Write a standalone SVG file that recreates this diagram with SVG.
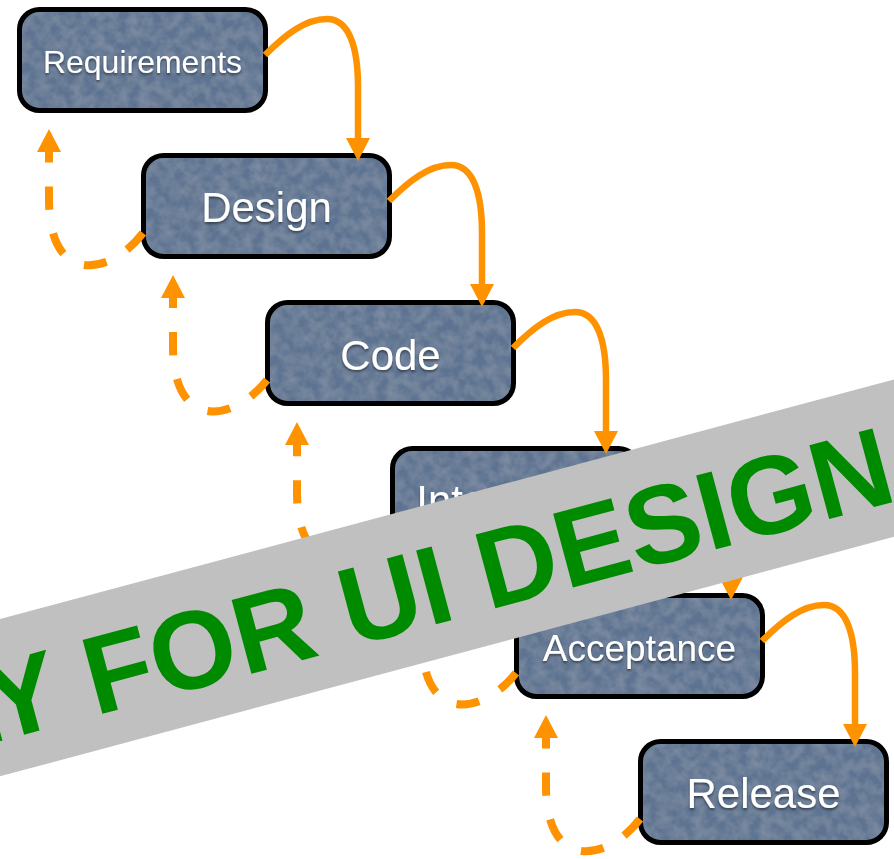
<svg xmlns="http://www.w3.org/2000/svg" width="894" height="859" viewBox="0 0 894 859">
  <style>
    .box { fill: #5d7391; }
    .frame { fill: none; stroke: #000; stroke-width: 5; }
    .lbl { font-family: "Liberation Sans", Arial, Helvetica, sans-serif; fill: #fff; text-anchor: middle; }
    .flow { fill: none; stroke: #ff9200; stroke-width: 6.5; marker-end: url(#tip); }
    .back { fill: none; stroke: #ff9200; stroke-width: 8; stroke-dasharray: 23 24; marker-end: url(#tip); }
    .band { fill: #c0c0c0; }
    .stamp { font-family: "Liberation Sans", Arial, Helvetica, sans-serif; font-weight: bold; font-size: 111px; fill: #008a00; }
  </style>
  <defs>
    <!-- fine mottled surface for the step boxes -->
    <filter id="grain" filterUnits="objectBoundingBox" x="0" y="0" width="1" height="1">
      <feTurbulence type="fractalNoise" baseFrequency="0.09" numOctaves="3" seed="7" result="noise"/>
      <feColorMatrix in="noise" type="matrix" values="0 0 0 0 1  0 0 0 0 1  0 0 0 0 1  0.2 0 0 0 -0.06" result="spots"/>
      <feComposite in="spots" in2="SourceAlpha" operator="in" result="clipped"/>
      <feMerge>
        <feMergeNode in="SourceGraphic"/>
        <feMergeNode in="clipped"/>
      </feMerge>
    </filter>
    <filter id="shadow" x="-10%" y="-20%" width="120%" height="160%">
      <feDropShadow dx="0" dy="2" stdDeviation="1.2" flood-color="#000" flood-opacity="0.45"/>
    </filter>
    <marker id="tip" viewBox="0 0 23 24" refX="0" refY="12" markerWidth="23" markerHeight="24" markerUnits="userSpaceOnUse" orient="auto">
      <path d="M0,0 L23,12 L0,24 Z" fill="#ff9200"/>
    </marker>
  </defs>

  <!-- process steps -->
  <g id="requirements" transform="translate(17,7)">
    <rect class="box" filter="url(#grain)" x="2.5" y="2.5" width="246" height="101" rx="20"/>
    <rect class="frame" x="2.5" y="2.5" width="246" height="101" rx="20"/>
    <text class="lbl" x="125.5" y="66" font-size="32" filter="url(#shadow)">Requirements</text>
  </g>
  <g id="design" transform="translate(141,153)">
    <rect class="box" filter="url(#grain)" x="2.5" y="2.5" width="246" height="101" rx="20"/>
    <rect class="frame" x="2.5" y="2.5" width="246" height="101" rx="20"/>
    <text class="lbl" x="125.5" y="69" font-size="42" filter="url(#shadow)">Design</text>
  </g>
  <g id="code" transform="translate(265,300)">
    <rect class="box" filter="url(#grain)" x="2.5" y="2.5" width="246" height="101" rx="20"/>
    <rect class="frame" x="2.5" y="2.5" width="246" height="101" rx="20"/>
    <text class="lbl" x="125.5" y="70" font-size="42" filter="url(#shadow)">Code</text>
  </g>
  <g id="integration" transform="translate(390,446)">
    <rect class="box" filter="url(#grain)" x="2.5" y="2.5" width="246" height="101" rx="20"/>
    <rect class="frame" x="2.5" y="2.5" width="246" height="101" rx="20"/>
    <text class="lbl" x="125.5" y="69" font-size="42" filter="url(#shadow)">Integration</text>
  </g>
  <g id="acceptance" transform="translate(514,593)">
    <rect class="box" filter="url(#grain)" x="2.5" y="2.5" width="246" height="101" rx="20"/>
    <rect class="frame" x="2.5" y="2.5" width="246" height="101" rx="20"/>
    <text class="lbl" x="125.5" y="67.5" font-size="37" filter="url(#shadow)">Acceptance</text>
  </g>
  <g id="release" transform="translate(638,739)">
    <rect class="box" filter="url(#grain)" x="2.5" y="2.5" width="246" height="101" rx="20"/>
    <rect class="frame" x="2.5" y="2.5" width="246" height="101" rx="20"/>
    <text class="lbl" x="125.5" y="69" font-size="42" filter="url(#shadow)">Release</text>
  </g>

  <!-- hand-offs (solid) and feedback loops (dashed) -->
  <g id="connectors">
    <path class="flow" d="M265,55 C285,35 305,19 327,19 C349,19 358,47 358,87 L358,138"/>
    <path class="flow" d="M389,201 C409,181 429,165 451,165 C473,165 482,193 482,233 L482,284"/>
    <path class="flow" d="M513,348 C533,328 553,312 575,312 C597,312 606,340 606,380 L606,431"/>
    <path class="flow" d="M638,494 C658,474 678,458 700,458 C722,458 731,486 731,526 L731,577"/>
    <path class="flow" d="M762,641 C782,621 802,605 824,605 C846,605 855,633 855,673 L855,724"/>

    <path class="back" d="M143,233 C110,276 49,286 49,200 L49,152"/>
    <path class="back" d="M267,380 C234,422 173,432 173,346 L173,298"/>
    <path class="back" d="M392,526 C358,569 297,579 297,493 L297,445"/>
    <path class="back" d="M516,673 C483,715 422,725 422,639 L422,591"/>
    <path class="back" d="M640,819 C607,862 546,872 546,786 L546,738"/>
  </g>

  <!-- diagonal watermark band -->
  <g id="watermark" transform="translate(0,619) rotate(-15)">
    <rect class="band" x="-300" y="0" width="1500" height="152"/>
    <text class="stamp" x="-260" y="118">ONLY FOR UI DESIGN</text>
  </g>
</svg>
